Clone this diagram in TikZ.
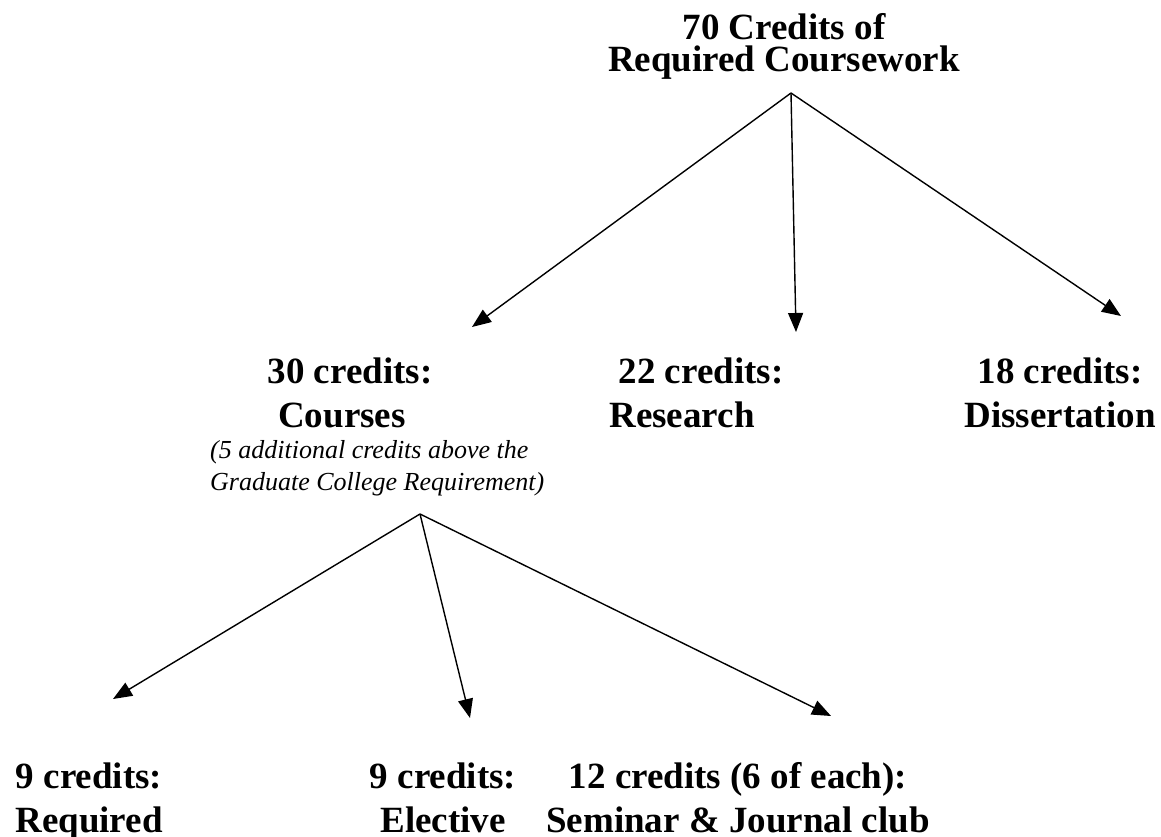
\documentclass[tikz,border=0pt]{standalone}
\usepackage{fontspec}
\setmainfont{Liberation Serif}
\usetikzlibrary{arrows.meta}

\tikzset{
	title/.style={align=center, anchor=base, inner sep=0pt, font=\fontsize{37}{32}\selectfont\bfseries},
	label/.style={align=center, anchor=base, inner sep=0pt, font=\fontsize{37}{44}\selectfont\bfseries},
	note/.style={align=left, anchor=base west, inner sep=0pt, font=\fontsize{26}{32}\selectfont\itshape},
	link/.style={line width=1.4pt, -{Triangle[length=19pt,width=15pt]}}
}

\begin{document}
\begin{tikzpicture}[x=1pt, y=-1pt]
	\useasboundingbox (0,0) rectangle (1161,837);

	% top level
	\node[title] (total) at (784,72) {70 Credits of\\Required Coursework};
	\coordinate (top) at (791,93);

	\node[label] (courses) at (350,427) {30 credits:\\Courses\hspace*{16pt}};
	\node[label] (research) at (701,427) {22 credits:\\Research\hspace*{38pt}};
	\node[label] (diss) at (1060,427) {18 credits:\\Dissertation};
	\node[note] (extra) at (210,490) {(5 additional credits above the\\Graduate College Requirement)};

	\coordinate (tipcourses) at (472,327);
	\coordinate (tipresearch) at (796,332);
	\coordinate (tipdiss) at (1121,316);
	\draw[link] (top) -- (tipcourses);
	\draw[link] (top) -- (tipresearch);
	\draw[link] (top) -- (tipdiss);

	% courses split
	\coordinate (mid) at (420,514);
	\node[label] (req) at (89,832) {9 credits:\\Required};
	\node[label] (elec) at (443,832) {9 credits:\\Elective};
	\node[label] (sem) at (738,832) {12 credits (6 of each):\\Seminar \& Journal club};

	\coordinate (tipreq) at (113,699);
	\coordinate (tipelec) at (470,718);
	\coordinate (tipsem) at (831,716);
	\draw[link] (mid) -- (tipreq);
	\draw[link] (mid) -- (tipelec);
	\draw[link] (mid) -- (tipsem);
\end{tikzpicture}
\end{document}
